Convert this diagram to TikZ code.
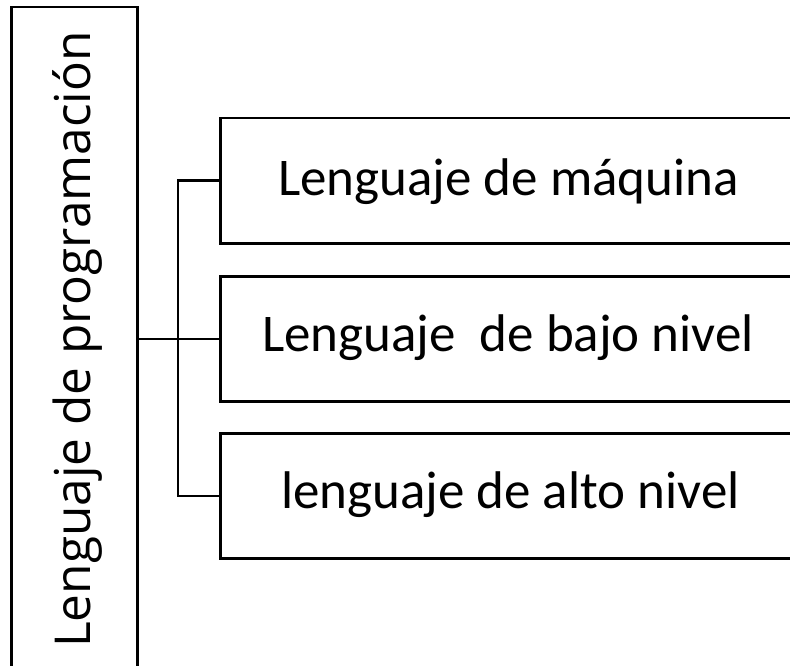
\documentclass[tikz,border=0pt]{standalone}
\usepackage{fontspec}
\setmainfont{Carlito}
\newfontfamily\titlefont{Open Sans}
\begin{document}
\begin{tikzpicture}[x=1pt,y=-1pt,
  framebox/.style={draw=black, line width=2.5pt, rectangle, inner sep=0pt},
  boxtext/.style={inner sep=0pt, anchor=base west, font=\fontsize{53}{60}\selectfont},
  link/.style={draw=black, line width=2.5pt}]
\useasboundingbox (0,0) rectangle (790,666);
\clip (0,0) rectangle (790,666);
% vertical title box, open past the bottom edge
\node[framebox, minimum width=126pt, minimum height=690pt, anchor=north west] (title) at (10,6) {};
\node[rotate=90, inner sep=0pt, anchor=base west, font=\titlefont\fontsize{49.5}{58}\selectfont] (titletext) at (90,648) {Lenguaje de programación};
% the three kinds of language, open past the right edge
\node[framebox, minimum width=580pt, minimum height=125pt, anchor=north west] (b1) at (219,117) {};
\node[framebox, minimum width=580pt, minimum height=125pt, anchor=north west] (b2) at (219,275) {};
\node[framebox, minimum width=580pt, minimum height=125pt, anchor=north west] (b3) at (219,432) {};
\node[boxtext] (t1) at (278,195) {Lenguaje de máquina};
\node[boxtext] (t2) at (262,351) {Lenguaje\ \ de bajo nivel};
\node[boxtext] (t3) at (281,508) {lenguaje de alto nivel};
% bracket joining title to the boxes
\path (b2.west) ++(-41,0) coordinate (j);
\draw[link] (title.east |- j) -- (j);
\draw[link] (j) |- (b1.west);
\draw[link] (j) -- (b2.west);
\draw[link] (j) |- (b3.west);
\end{tikzpicture}
\end{document}
